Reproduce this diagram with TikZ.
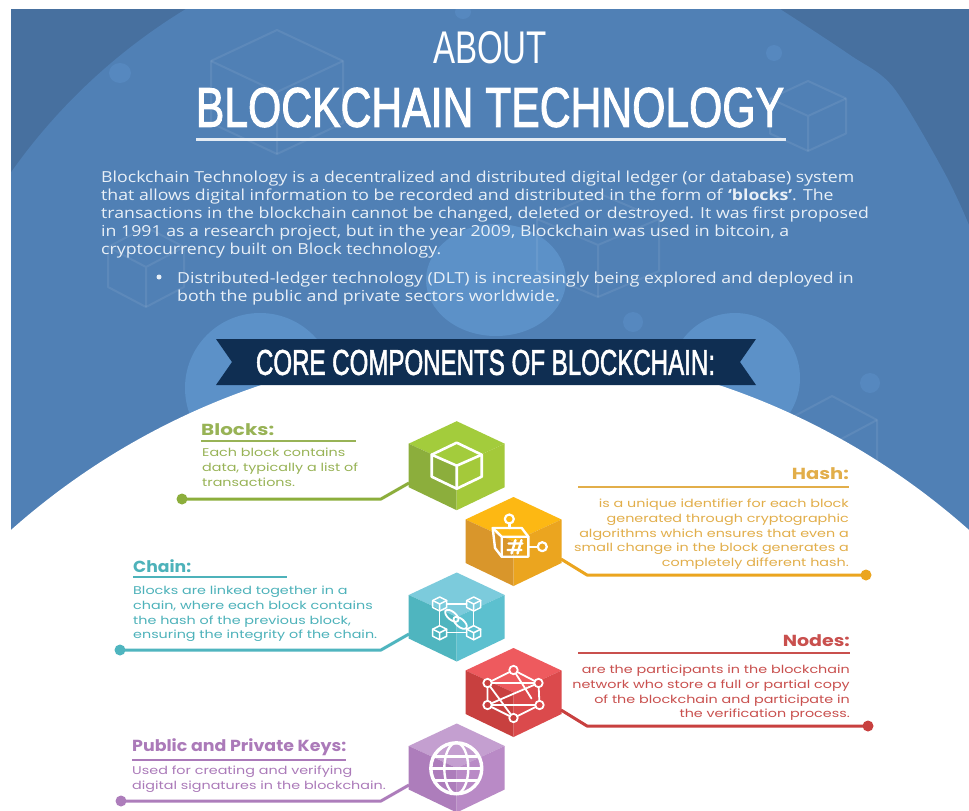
\documentclass[tikz,border=0pt]{standalone}
\usepackage{fontspec}
\usepackage{graphicx}
\setmainfont[FakeStretch=1.165]{Open Sans}
\newfontfamily\headfont{Liberation Sans}
\newfontfamily\midfont[FakeBold=2]{Liberation Sans}
\newfontfamily\labelfont[FakeStretch=1.28]{Poppins}
\newfontfamily\labelhead{Poppins}
\definecolor{bgdark}{HTML}{47709F}
\definecolor{bgmid}{HTML}{5080B5}
\definecolor{bgcirc}{HTML}{5C91C8}
\definecolor{bgsmall}{HTML}{5688BF}
\definecolor{navy}{HTML}{0F2E52}
\definecolor{paper}{HTML}{E9F0F7}
\definecolor{gT}{HTML}{A3CC3C}\definecolor{gL}{HTML}{8CAE3C}\definecolor{gR}{HTML}{A4C93A}\definecolor{gX}{HTML}{98B356}
\definecolor{oT}{HTML}{FDB813}\definecolor{oL}{HTML}{D9962B}\definecolor{oR}{HTML}{EBA51F}\definecolor{oX}{HTML}{E2AE4A}
\definecolor{tT}{HTML}{7CCBDC}\definecolor{tL}{HTML}{4FB5BF}\definecolor{tR}{HTML}{5CC0CF}\definecolor{tX}{HTML}{4DB2BA}
\definecolor{rT}{HTML}{EE5A5E}\definecolor{rL}{HTML}{C8403F}\definecolor{rR}{HTML}{DB4A4C}\definecolor{rX}{HTML}{C9504E}
\definecolor{pT}{HTML}{C49FD0}\definecolor{pL}{HTML}{AD7DBB}\definecolor{pR}{HTML}{B98AC6}\definecolor{pX}{HTML}{AB7AB9}
\tikzset{
  para/.style={anchor=north west,inner sep=0pt,text=paper,align=left,font=\fontsize{15.2}{18}\selectfont},
  ttl/.style={inner sep=0pt,text=white},
  hd/.style={inner sep=0pt,font=\labelhead\bfseries\fontsize{16}{18}\selectfont},
  bodyl/.style={inner sep=0pt,align=left,anchor=north west,font=\labelfont\fontsize{11.2}{14.7}\selectfont},
  bodyr/.style={inner sep=0pt,align=right,anchor=north east,font=\labelfont\fontsize{11.2}{14.7}\selectfont},
  conn/.style={line width=3pt,line join=round},
  rulel/.style={line width=2.2pt},
  dotn/.style={circle,inner sep=0pt,minimum size=11pt},
  ico/.style={draw=white,line width=2.6pt,line join=round,line cap=round},
  icot/.style={draw=white,line width=1.5pt,line join=round,line cap=round},
  faint/.style={draw=white,opacity=.08,line width=2pt,line join=round},
}
\newcommand{\hexcube}[4]{% name, center x, y, colour prefix
  \coordinate (#1) at (#2,#3);
  \fill[#4T] (#2,#3) ++(0,-44.5) -- ++(48,22.5) -- ++(-48,22) -- ++(-48,-22) -- cycle;
  \fill[#4L] (#2,#3) -- ++(-48,-22) -- ++(0,43.5) -- ++(48,23) -- cycle;
  \fill[#4R] (#2,#3) -- ++(48,-22) -- ++(0,43.5) -- ++(-48,23) -- cycle;
}
\newcommand{\faintcube}[4]{% x,y,half width,half height
  \draw[faint] (#1,#2) ++(0,-#4) -- ++(#3,.5*#4) -- ++(0,#4) -- ++(-#3,.5*#4) -- ++(-#3,-.5*#4) -- ++(0,-#4) -- cycle;
  \draw[faint] (#1,#2) -- ++(0,#4) (#1,#2) -- ++(#3,-.5*#4) (#1,#2) -- ++(-#3,-.5*#4);
}
\newcommand{\minicube}[2]{%
  \draw[icot] (#1,#2) ++(0,-7) -- ++(7,3.5) -- ++(0,7) -- ++(-7,3.5) -- ++(-7,-3.5) -- ++(0,-7) -- cycle;
  \draw[icot] (#1,#2) -- ++(0,7) (#1,#2) -- ++(7,-3.5) (#1,#2) -- ++(-7,-3.5);
}
\begin{document}
\begin{tikzpicture}[x=1pt,y=-1pt]
\useasboundingbox (0,0) rectangle (969,811);
% background
\begin{scope}
\clip (11,9) rectangle (969,811);
\fill[bgdark] (11,9) rectangle (969,811);
\begin{scope}
\clip (0,0) rectangle (490,811);
\fill[bgmid] (490,510) circle (586);
\end{scope}
\fill[bgmid] (489,-15) -- plot[smooth] coordinates {(740,-15) (780,9) (850,55) (893,87) (943,170) (969,225) (985,270)} -- (985,811) -- (489,811) -- cycle;
\fill[bgcirc] (260,388) circle (75);
\fill[bgcirc] (735,378) circle (65);
\fill[bgcirc] (496,280) ellipse [x radius=70,y radius=56];
\fill[bgsmall] (120,73) ellipse [x radius=11,y radius=10];
\fill[bgsmall] (774,53) ellipse [x radius=8,y radius=8];
\fill[bgsmall] (463,12) ellipse [x radius=8,y radius=7];
\fill[bgsmall] (633,322) ellipse [x radius=10,y radius=10];
\fill[bgsmall] (870,383) ellipse [x radius=10,y radius=10];
\faintcube{277}{92}{66}{62}
\faintcube{808}{116}{38}{35}
\faintcube{146}{267}{38}{40}
\faintcube{598}{245}{61}{52}
\faintcube{832}{444}{45}{48}
\fill[white] (490,1069.4) circle (721.4);
\end{scope}
\fill[white] (0,530) rectangle (11,811);
% titles
\node[ttl] (about) at (490,48) {\resizebox{114pt}{32pt}{\headfont ABOUT}};
\node[ttl] (main) at (490,107.5) {\resizebox{588pt}{39pt}{\midfont BLOCKCHAIN TECHNOLOGY}};
\coordinate (ula) at (196,139.5);
\coordinate (ulb) at (786,139.5);
\draw[line width=2.2pt,color=white!85!bgmid] (ula) -- (ulb);
% paragraphs
\node[para] (intro) at (101,171) {Blockchain Technology is a decentralized and distributed digital ledger (or database) system\\
that allows digital information to be recorded and distributed in the form of \textbf{‘blocks’}. The\\
transactions in the blockchain cannot be changed, deleted or destroyed. It was first proposed\\
in 1991 as a research project, but in the year 2009, Blockchain was used in bitcoin, a\\
cryptocurrency built on Block technology.};
\node[para] (bul) at (177,272) {Distributed-ledger technology (DLT) is increasingly being explored and deployed in\\
both the public and private sectors worldwide.};
\node[circle,fill=paper,inner sep=0pt,minimum size=5pt] (bdot) at (159,277) {};
% banner
\fill[navy] (216,339) -- (756,339) -- (740,362) -- (756,385) -- (216,385) -- (232,362) -- cycle;
\node[ttl] (core) at (485.5,362.5) {\resizebox{459pt}{25pt}{\midfont CORE COMPONENTS OF BLOCKCHAIN:}};
% hexes
\hexcube{hb}{456.7}{465.7}{g}
\hexcube{hh}{513.5}{541.5}{o}
\hexcube{hc}{456.7}{617}{t}
\hexcube{hn}{513.5}{692.5}{r}
\hexcube{hk}{456.7}{768}{p}
% connectors
\node[dotn,fill=gL] (db) at (182,499) {};
\coordinate (bb) at (381,499);
\coordinate (eb) at (409,483);
\draw[conn,gL] (db.center) -- (bb) -- (eb);
\node[dotn,fill=oR] (dh) at (866,575) {};
\coordinate (bh) at (587,575);
\coordinate (eh) at (561,559);
\draw[conn,oR] (dh.center) -- (bh) -- (eh);
\node[dotn,fill=tL] (dc) at (120,650) {};
\coordinate (bc) at (381,650);
\coordinate (ec) at (409,634);
\draw[conn,tL] (dc.center) -- (bc) -- (ec);
\node[dotn,fill=rL] (dn) at (868,726) {};
\coordinate (bn) at (587,726);
\coordinate (en) at (561,710);
\draw[conn,rL] (dn.center) -- (bn) -- (en);
\node[dotn,fill=pL] (dk) at (121,801) {};
\coordinate (bk) at (381,801);
\coordinate (ek) at (409,785);
\draw[conn,pL] (dk.center) -- (bk) -- (ek);
% labels
\node[hd,anchor=west,text=gX] (tb) at (201,430) {\resizebox{73pt}{\height}{Blocks:}};
\draw[rulel,gX] (201,441) -- (356,441);
\node[bodyl,text=gX] (xb) at (202,448) {Each block contains\\data, typically a list of\\transactions.};
\node[hd,anchor=east,text=oX] (th) at (849,474) {\resizebox{57pt}{\height}{Hash:}};
\draw[rulel,oX] (578,487) -- (849,487);
\node[bodyr,text=oX] (xh) at (849,499) {is a unique identifier for each block\\generated through cryptographic\\algorithms which ensures that even a\\small change in the block generates a\\completely different hash.};
\node[hd,anchor=west,text=tX] (tc) at (133,566) {\resizebox{58pt}{\height}{Chain:}};
\draw[rulel,tX] (133,577) -- (287,577);
\node[bodyl,text=tX] (xc) at (133,586) {Blocks are linked together in a\\chain, where each block contains\\the hash of the previous block,\\ensuring the integrity of the chain.};
\node[hd,anchor=east,text=rX] (tn) at (850,641) {\resizebox{67pt}{\height}{Nodes:}};
\draw[rulel,rX] (578,653) -- (850,653);
\node[bodyr,text=rX] (xn) at (850,665) {are the participants in the blockchain\\network who store a full or partial copy\\of the blockchain and participate in\\the verification process.};
\node[hd,anchor=west,text=pX] (tk) at (132,747) {\resizebox{214pt}{\height}{Public and Private Keys:}};
\draw[rulel,pX] (132,760) -- (346,760);
\node[bodyl,text=pX] (xk) at (132,766) {Used for creating and verifying\\digital signatures in the blockchain.};
% icon: cube
\begin{scope}[shift={(456.7,465.7)}]
\draw[ico] (0,-23) -- (25,-11) -- (25,11) -- (0,23) -- (-25,11) -- (-25,-11) -- cycle;
\draw[ico] (0,0) -- (0,23) (0,0) -- (25,-11) (0,0) -- (-25,-11);
\end{scope}
% icon: hash robot
\begin{scope}[shift={(513.5,541.5)}]
\draw[icot,line width=2.4pt] (-20.8,-13.5) -- (8.2,-13.5) -- (14.8,-4.8) -- (14.8,15.2) -- (-11.8,15.2) -- (-18.5,6.5) -- cycle;
\draw[icot,line width=2.4pt] (-20.8,-13.5) -- (-11.8,-4.8) -- (14.8,-4.8) (-11.8,-4.8) -- (-11.8,15.2);
\draw[icot,line width=2.4pt] (-4.2,-13.5) -- (-4.2,-18);
\draw[icot,line width=2.2pt] (-4.2,-22.5) circle (4.5);
\draw[icot,line width=2.4pt] (14.8,5.2) -- (24.3,5.2);
\draw[icot,line width=2.2pt] (28.8,5.2) circle (4.5);
\draw[icot,line width=2.4pt] (-5,2) -- (9,2) (-6,8.5) -- (8,8.5) (2,-1.5) -- (-2,12) (8,-1.5) -- (4,12);
\end{scope}
% icon: chain
\begin{scope}[shift={(456.7,617)}]
\draw[icot] (-10,-13) -- (10,-13) (-10,15.7) -- (10,15.7) (-17,-6) -- (-17,8.7) (17,-6) -- (17,8.7);
\minicube{-17}{-13}\minicube{17}{-13}\minicube{-17}{15.7}\minicube{17}{15.7}
\begin{scope}[shift={(-0.7,2.3)},rotate=-40]
\draw[icot,line width=1.8pt] (-5.5,0) ellipse [x radius=8,y radius=4];
\draw[icot,line width=1.8pt] (5.5,0) ellipse [x radius=8,y radius=4];
\end{scope}
\end{scope}
% icon: nodes
\begin{scope}[shift={(513.5,692.5)}]
\coordinate (n1) at (0,-22.5);\coordinate (n2) at (-26,-9.5);\coordinate (n3) at (25,-9.5);
\coordinate (n4) at (-26,12.5);\coordinate (n5) at (26,12.5);\coordinate (n6) at (0,25.5);
\draw[icot,line width=1.8pt] (n1) -- (n2) -- (n4) -- (n6) -- (n5) -- (n3) -- (n1);
\draw[icot,line width=1.8pt] (n2) -- (n3) -- (n4) -- (n5) (n1) -- (18,6) (n2) -- (n6);
\foreach \p/\f in {n1/rT,n2/rL,n3/rR,n4/rL,n5/rR,n6/rL}{\fill[\f] (\p) circle (4.2);\draw[icot,line width=1.8pt] (\p) circle (4.2);}
\end{scope}
% icon: globe
\begin{scope}[shift={(456.3,768.3)}]
\draw[ico,line width=3.4pt] (0,0) circle (25.5);
\draw[ico,line width=2.4pt] (0,0) ellipse [x radius=12,y radius=25.5];
\draw[ico,line width=2.4pt] (-25.5,0) -- (25.5,0) (-21,-12) -- (21,-12) (-21,12) -- (21,12);
\end{scope}
\end{tikzpicture}
\end{document}
